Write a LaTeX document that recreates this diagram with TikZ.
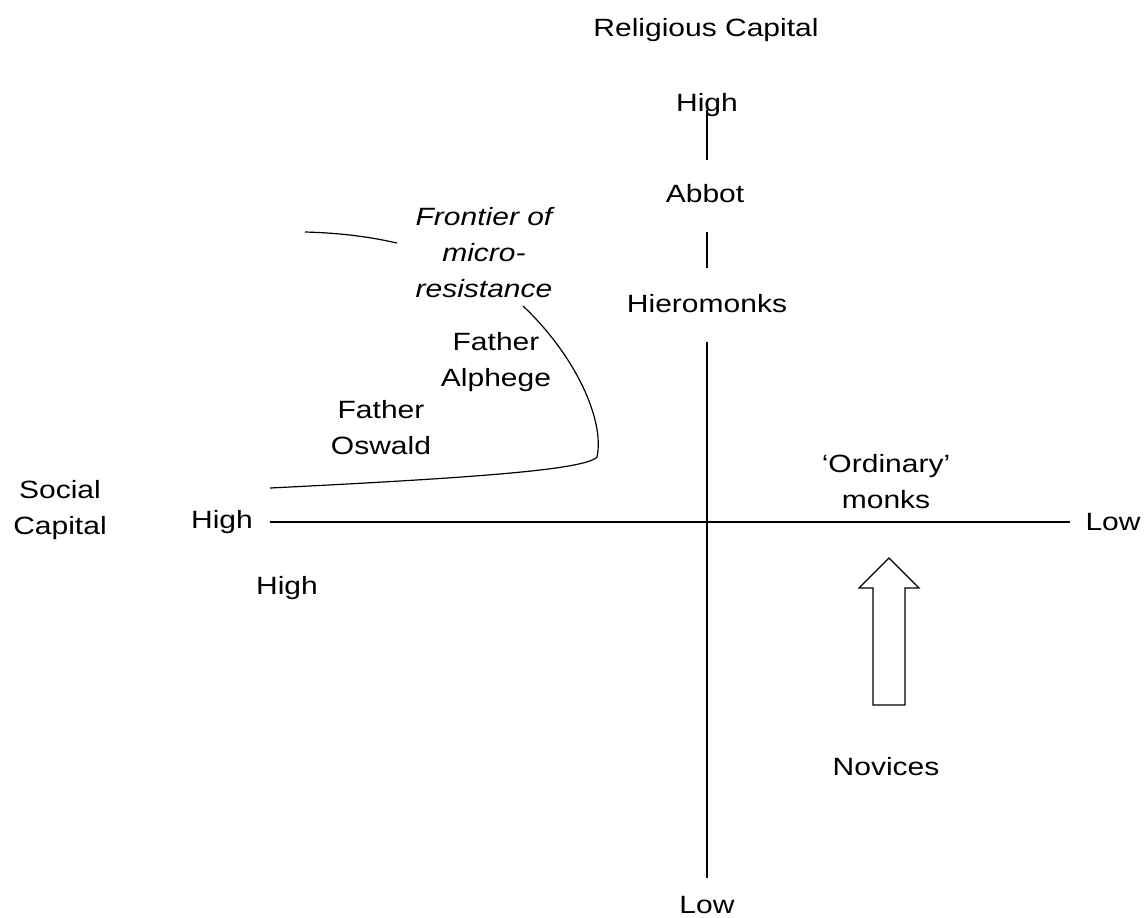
\documentclass[tikz,border=0pt]{standalone}
\usepackage{fontspec}
\setmainfont{Liberation Sans}[FakeStretch=1.2]
\begin{document}
\begin{tikzpicture}[x=0.5pt,y=-0.5pt]
  \tikzstyle{tag}=[inner sep=0pt,align=center,font=\fontsize{12.5}{18}\selectfont]
  \tikzstyle{line}=[draw,line width=0.6pt]
  \useasboundingbox (0,0) rectangle (1144,917);
  % religious capital axis
  \node[tag] (RC)   at (706,30)  {Religious Capital};
  \node[tag] (RH)   at (707,105) {High};
  \node[tag] (AB)   at (705,194) {Abbot};
  \node[tag] (HM)   at (707,304) {Hieromonks};
  \node[tag] (RL)   at (707,905) {Low};
  \coordinate (v1) at (707,110);
  \coordinate (v2) at (707,160);
  \coordinate (v3) at (707,232);
  \coordinate (v4) at (707,268);
  \coordinate (v5) at (707,342);
  \coordinate (v6) at (707,878);
  \draw[line] (v1) -- (v2);
  \draw[line] (v3) -- (v4);
  \draw[line] (v5) -- (v6);
  % social capital axis
  \node[tag] (SC)   at (60,510)   {Social\\Capital};
  \node[tag] (SH)   at (222,522)  {High};
  \node[tag] (SL)   at (1113,522) {Low};
  \node[tag] (SH2)  at (287,588)  {High};
  \coordinate (h1) at (270,522);
  \coordinate (h2) at (1070,522);
  \draw[line] (h1) -- (h2);
  % monks
  \node[tag] (FA)   at (496,362) {Father\\Alphege};
  \node[tag] (FO)   at (381,428) {Father\\Oswald};
  \node[tag] (OM)   at (886,482) {`Ordinary'\\monks};
  \node[tag] (NV)   at (886,767) {Novices};
  % frontier
  \node[tag,font=\fontsize{12.5}{18}\selectfont\itshape] (FR) at (484,253) {Frontier of\\micro-\\resistance};
  \coordinate (f1) at (305,232);
  \coordinate (f2) at (397,243);
  \coordinate (f3) at (523,306);
  \coordinate (f4) at (597,457);
  \coordinate (f5) at (270,488);
  \draw[line] (f1) .. controls (345,233) and (375,238) .. (f2);
  \draw[line] (f3) .. controls (575,355) and (605,420) .. (f4)
    .. controls (585,470) and (470,478) .. (f5);
  % block arrow
  \coordinate (ab) at (889,705);
  \draw[line] (ab) ++(-16,0) -- ++(0,-117) -- ++(-14,0) -- ++(30,-30)
    -- ++(30,30) -- ++(-14,0) -- ++(0,117) -- cycle;
\end{tikzpicture}
\end{document}
